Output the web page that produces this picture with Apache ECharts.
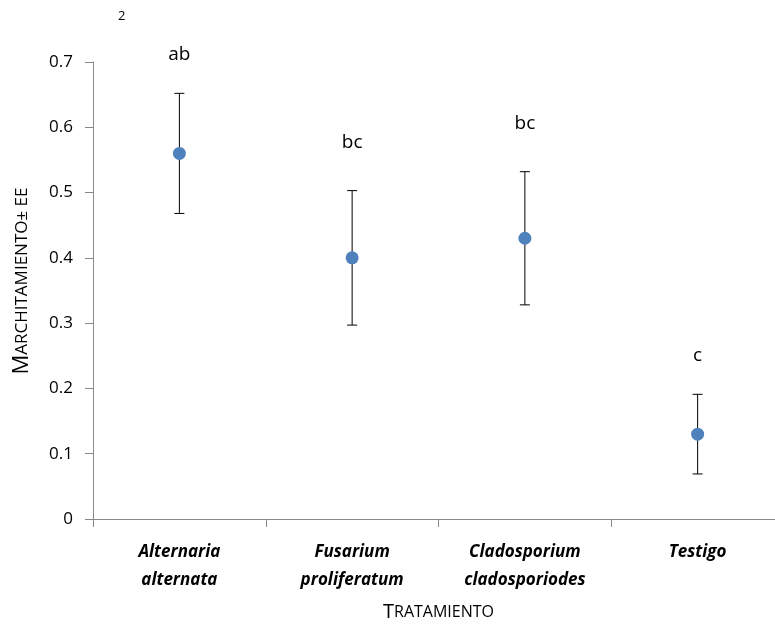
<!DOCTYPE html>
<html>
<head>
<meta charset="utf-8">
<script src="https://cdn.jsdelivr.net/npm/echarts@6.0.0/dist/echarts.min.js"></script>
<style>
  html, body { margin: 0; padding: 0; background: #fff; }
  #chart { width: 775px; height: 625px; }
</style>
</head>
<body>
<div id="chart"></div>
<script>
// data
const categories = ['Alternaria\nalternata', 'Fusarium\nproliferatum', 'Cladosporium\ncladosporiodes', 'Testigo'];
const means = [0.56, 0.40, 0.43, 0.13];
const errors = [0.092, 0.103, 0.102, 0.061];
const letters = ['ab', 'bc', 'bc', 'c'];
const letterPos = [0.712, 0.577, 0.605, 0.25];

const chart = echarts.init(document.getElementById('chart'));
const font = '"Open Sans", "Noto Sans", sans-serif';

const errData = means.map((m, i) => [i, m - errors[i], m + errors[i]]);

const option = {
  animation: false,
  grid: { left: 93, width: 691, top: 62, height: 457, outerBoundsMode: 'none', containLabel: false },
  xAxis: {
    type: 'category',
    data: categories,
    boundaryGap: true,
    axisLine: { lineStyle: { color: '#898989', width: 1 } },
    axisTick: { show: true, length: 8, lineStyle: { color: '#898989' } },
    axisLabel: {
      color: '#000', fontFamily: font, fontSize: 17, fontWeight: 'bold', fontStyle: 'italic',
      margin: 19, lineHeight: 28
    },
    name: '{b|T}{s|RATAMIENTO}',
    nameLocation: 'middle',
    nameGap: 83,
    nameTextStyle: {
      rich: {
        b: { fontFamily: font, fontSize: 20, color: '#000' },
        s: { fontFamily: font, fontSize: 16, color: '#000' }
      }
    }
  },
  yAxis: {
    type: 'value',
    min: 0, max: 0.7, interval: 0.1,
    splitLine: { show: false },
    axisLine: { show: true, lineStyle: { color: '#898989', width: 1 } },
    axisTick: { show: true, length: 8, lineStyle: { color: '#898989' } },
    axisLabel: {
      color: '#000', fontFamily: font, fontSize: 17, margin: 20,
      formatter: v => (Math.round(v * 10) / 10).toString()
    }
  },
  graphic: [
    {
      type: 'text', left: 118, top: 10,
      style: { text: '2', fontFamily: font, fontSize: 13, fill: '#000' }
    },
    {
      // y axis title, placed by hand to sit where the original one sits
      type: 'text', x: 22, y: 281, rotation: Math.PI / 2,
      style: {
        text: '{b|M}{s|ARCHITAMIENTO± EE}',
        align: 'center', verticalAlign: 'middle',
        rich: {
          b: { fontFamily: font, fontSize: 22, fill: '#000' },
          s: { fontFamily: font, fontSize: 17, fill: '#000' }
        }
      }
    }
  ],
  series: [
    {
      type: 'custom',
      data: errData,
      z: 2,
      clip: false,
      renderItem: function (params, api) {
        const x = api.value(0);
        const lo = api.coord([x, api.value(1)]);
        const hi = api.coord([x, api.value(2)]);
        const w = 5;
        const st = { stroke: '#000', lineWidth: 1 };
        return {
          type: 'group',
          children: [
            { type: 'line', shape: { x1: lo[0], y1: lo[1], x2: hi[0], y2: hi[1] }, style: st },
            { type: 'line', shape: { x1: lo[0] - w, y1: lo[1], x2: lo[0] + w, y2: lo[1] }, style: st },
            { type: 'line', shape: { x1: hi[0] - w, y1: hi[1], x2: hi[0] + w, y2: hi[1] }, style: st }
          ]
        };
      }
    },
    {
      type: 'scatter',
      data: means,
      symbol: 'circle',
      symbolSize: 13,
      z: 3,
      itemStyle: { color: '#4f81bd', opacity: 1 }
    },
    {
      type: 'scatter',
      data: letterPos.map((v, i) => ({ value: v, label: { formatter: letters[i] } })),
      symbolSize: 1,
      clip: false,
      silent: true,
      itemStyle: { color: 'rgba(0,0,0,0)', opacity: 1 },
      label: {
        show: true, position: 'inside', color: '#000', fontFamily: font, fontSize: 19
      }
    }
  ]
};

chart.setOption(option);
</script>
</body>
</html>
